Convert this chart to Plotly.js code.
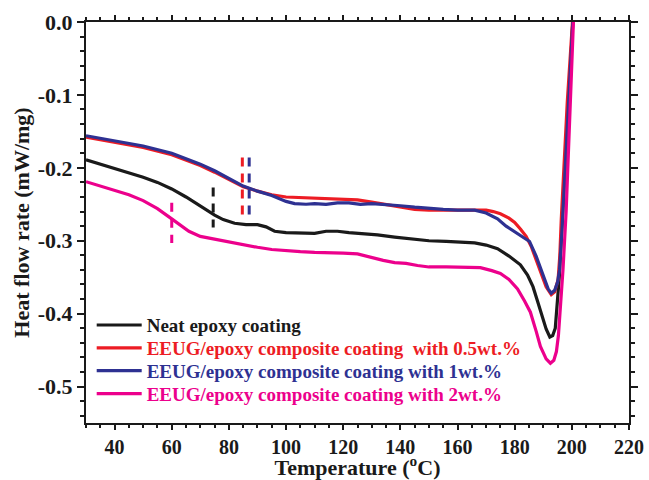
<!DOCTYPE html>
<html>
<head>
<meta charset="utf-8">
<script src="https://cdn.plot.ly/plotly-3.0.1.min.js"></script>
<style>html,body{margin:0;padding:0;background:#fff;}#chart{width:649px;height:480px;}</style>
</head>
<body>
<div id="chart"></div>
<script>
// ---- data ----
const seriesNames = [
  'Neat epoxy coating',
  'EEUG/epoxy composite coating&nbsp; with 0.5wt.%',
  'EEUG/epoxy composite coating with 1wt.%',
  'EEUG/epoxy composite coating with 2wt.%'
];
const seriesColors = ['#1a1a1a', '#ed1c24', '#2e3192', '#ec008c'];

const neatX = [30,35,40,45,50,55,60,65,70,75,78,82,86,90,93,96,100,105,110,114,118,122,127,132,138,144,150,156,162,166,170,174,178,182,184.5,186.4,188,189.5,191,192.3,193.3,194.2,195,195.6,196.4,197.5,198.7,199.6,200.4];
const neatY = [-0.189,-0.195,-0.200,-0.206,-0.213,-0.220,-0.229,-0.240,-0.253,-0.265,-0.271,-0.276,-0.278,-0.278,-0.281,-0.287,-0.289,-0.289,-0.290,-0.287,-0.287,-0.289,-0.290,-0.292,-0.295,-0.298,-0.300,-0.301,-0.302,-0.303,-0.306,-0.311,-0.321,-0.333,-0.347,-0.363,-0.383,-0.402,-0.421,-0.432,-0.430,-0.420,-0.385,-0.350,-0.290,-0.215,-0.120,-0.055,0.005];

const w05X = [30,40,50,60,65,70,75,80,85,90,95,100,105,110,115,120,125,130,135,140,145,150,156,162,167,170,172.5,175,178,180,182,184,185.8,187.5,189.3,191,192.8,194,195.2,195.8,196.3,197.3,198.4,199.4,200.3];
const w05Y = [-0.158,-0.165,-0.172,-0.182,-0.189,-0.197,-0.206,-0.216,-0.226,-0.232,-0.237,-0.240,-0.241,-0.242,-0.242,-0.243,-0.244,-0.247,-0.250,-0.254,-0.257,-0.258,-0.258,-0.258,-0.257,-0.258,-0.260,-0.263,-0.269,-0.275,-0.284,-0.294,-0.308,-0.326,-0.345,-0.363,-0.374,-0.370,-0.353,-0.320,-0.271,-0.190,-0.110,-0.050,0.005];

const w1X = [30,40,50,60,65,70,75,80,85,90,95,100,103,107,110,114,118,122,126,130,135,140,145,150,155,160,166,170,174,177,181.7,185.2,187.5,189,190.4,191.7,192.8,194,195,195.7,196.5,197.5,198.5,199.5,200.4];
const w1Y = [-0.156,-0.163,-0.170,-0.180,-0.187,-0.195,-0.204,-0.215,-0.225,-0.232,-0.238,-0.246,-0.249,-0.250,-0.249,-0.250,-0.248,-0.248,-0.250,-0.249,-0.250,-0.252,-0.254,-0.256,-0.257,-0.258,-0.258,-0.262,-0.270,-0.280,-0.292,-0.301,-0.321,-0.337,-0.353,-0.366,-0.372,-0.368,-0.357,-0.340,-0.290,-0.215,-0.140,-0.070,0.005];

const w2X = [30,35,40,45,50,55,60,63,66,70,75,80,85,90,95,100,105,110,115,120,125,128,131,134,138,142,146,150,156,162,168,172,175,178,181,183.5,185.5,187.5,189,191,192.5,193.7,194.6,195.3,195.8,196.9,198,199,199.8,200.6];
const w2Y = [-0.219,-0.225,-0.230,-0.237,-0.245,-0.256,-0.270,-0.279,-0.287,-0.294,-0.298,-0.301,-0.305,-0.309,-0.312,-0.314,-0.315,-0.316,-0.316,-0.317,-0.318,-0.321,-0.325,-0.327,-0.330,-0.331,-0.334,-0.336,-0.336,-0.337,-0.337,-0.341,-0.345,-0.353,-0.366,-0.383,-0.398,-0.424,-0.445,-0.462,-0.468,-0.464,-0.452,-0.430,-0.405,-0.340,-0.260,-0.165,-0.080,0.005];

// glass-transition markers (dashed vertical segments), order: neat, 0.5, 1, 2 wt.%
const tgX = [74.5, 84.7, 87.1, 60.0];
const tgTop = [-0.227, -0.186, -0.186, -0.248];
const tgBottom = [-0.282, -0.264, -0.264, -0.303];

const xTickVals = [40,60,80,100,120,140,160,180,200,220];
const yTickVals = [0, -0.1, -0.2, -0.3, -0.4, -0.5];
const yTickText = ['0.0', '-0.1', '-0.2', '-0.3', '-0.4', '-0.5'];

// ---- build traces ----
const xs = [neatX, w05X, w1X, w2X];
const ys = [neatY, w05Y, w1Y, w2Y];
const legendIds = ['legend', 'legend2', 'legend3', 'legend4'];
const traces = [];
for (let i = 0; i < 4; i++) {
  traces.push({
    x: xs[i], y: ys[i], type: 'scatter', mode: 'lines',
    name: seriesNames[i], legend: legendIds[i],
    line: {color: seriesColors[i], width: 3.2},
    hoverinfo: 'skip'
  });
}
for (let i = 0; i < 4; i++) {
  traces.push({
    x: [tgX[i], tgX[i]], y: [tgTop[i], tgBottom[i]], type: 'scatter', mode: 'lines',
    showlegend: false, hoverinfo: 'skip',
    line: {color: seriesColors[i], width: 3, dash: '9px,7px'}
  });
}

const FAM = 'Liberation Serif, Times New Roman, serif';
const font = {family: FAM, color: '#1a1a1a', weight: 'bold'};
const axisCommon = {
  showline: true, linecolor: '#1a1a1a', linewidth: 2, mirror: 'allticks',
  ticks: 'outside', ticklen: 7, tickwidth: 2, tickcolor: '#1a1a1a',
  showgrid: false, zeroline: false
};

const layout = {
  width: 649, height: 480,
  margin: {l: 86, r: 20, t: 22, b: 57},
  paper_bgcolor: '#fff', plot_bgcolor: '#fff',
  font: font,
  showlegend: true,
  xaxis: Object.assign({}, axisCommon, {
    range: [30, 220], tickmode: 'array', tickvals: xTickVals,
    ticklen: 5,
    tickfont: {family: FAM, color: '#1a1a1a', weight: 'bold', size: 20},
    minor: {tickmode: 'linear', tick0: 30, dtick: 5, ticklen: 3, tickwidth: 2, tickcolor: '#1a1a1a', ticks: 'outside', showgrid: false},
    title: {text: 'Temperature (<sup>o</sup>C)', font: {family: FAM, color: '#1a1a1a', weight: 'bold', size: 22}, standoff: 2}
  }),
  yaxis: Object.assign({}, axisCommon, {
    range: [-0.55, 0], tickmode: 'array', tickvals: yTickVals, ticktext: yTickText,
    tickfont: {family: FAM, color: '#1a1a1a', weight: 'bold', size: 22},
    minor: {tickmode: 'linear', tick0: 0, dtick: 0.02, ticklen: 4, tickwidth: 2, tickcolor: '#1a1a1a', ticks: 'outside', showgrid: false},
    title: {text: 'Heat flow rate (mW/mg)', font: {family: FAM, color: '#1a1a1a', weight: 'bold', size: 22}, standoff: 2}
  })
};
const legendY = [0.244, 0.187, 0.130, 0.073];
for (let i = 0; i < 4; i++) {
  layout[legendIds[i]] = {
    x: 0.0105, y: legendY[i], xanchor: 'left', yanchor: 'middle',
    bgcolor: 'rgba(0,0,0,0)', borderwidth: 0, itemwidth: 45,
    font: {family: FAM, color: seriesColors[i], weight: 'bold', size: 19}
  };
}

Plotly.newPlot('chart', traces, layout, {displayModeBar: false, staticPlot: true});
</script>
</body>
</html>
